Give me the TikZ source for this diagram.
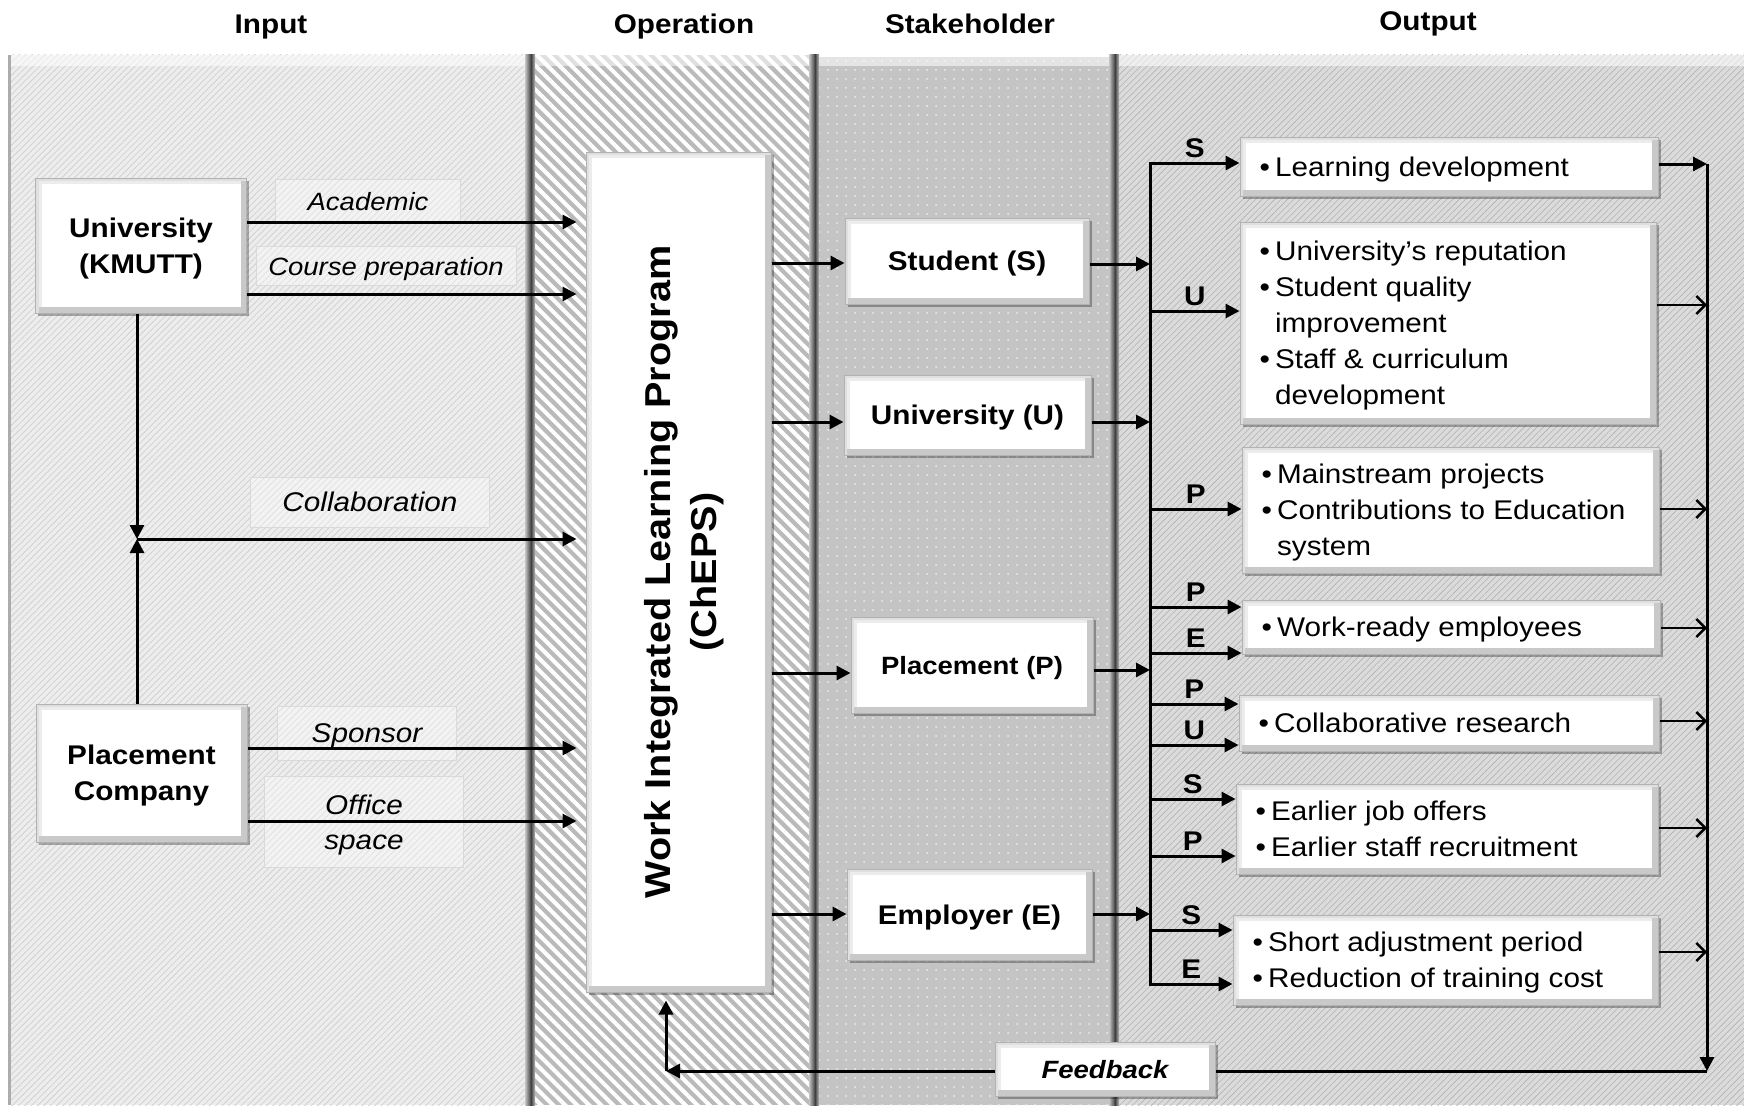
\documentclass[tikz,border=0pt]{standalone}
\usepackage{fontspec}
\setmainfont[FakeStretch=1.1]{Liberation Sans}
\usetikzlibrary{arrows.meta,patterns.meta,shadows}
\definecolor{pIn}{gray}{0.93}
\definecolor{pInL}{gray}{0.82}
\definecolor{pOp}{gray}{0.73}
\definecolor{pSt}{gray}{0.77}
\definecolor{pStD}{gray}{0.93}
\definecolor{pOut}{gray}{0.86}
\definecolor{pOutL}{gray}{0.70}
\newcommand\obul{•\hspace{5pt}}
\newcommand\onob{\phantom{•}\hspace{5pt}}
\begin{document}
\begin{tikzpicture}[x=1pt,y=-1pt,
  every node/.style={inner sep=0pt, text depth=0pt},
  tx/.style={font=\fontsize{27}{36}\selectfont},
  hdr/.style={font=\bfseries\fontsize{27}{36}\selectfont},
  bx/.style={rectangle, fill=white, draw=gray!60, line width=1pt,
    drop shadow={shadow xshift=2.5pt, shadow yshift=-2.5pt, fill=black, opacity=0.3},
    path picture={
      \draw[gray!15, line width=12pt] (path picture bounding box.south west) rectangle (path picture bounding box.north east);
      \draw[gray!42, line width=12pt] (path picture bounding box.south west) -- (path picture bounding box.south east) -- (path picture bounding box.north east);
      \draw[gray!25, line width=6pt] (path picture bounding box.south west) -- (path picture bounding box.north west) -- (path picture bounding box.north east);
    }},
  bxt/.style={font=\bfseries\fontsize{27}{36}\selectfont, align=center},
  lbl/.style={draw=gray!30, fill=white, fill opacity=0.35, text opacity=1, align=center, font=\itshape\fontsize{27}{35}\selectfont},
  ln/.style={line width=3pt},
  arr/.style={line width=3pt, -{Triangle[length=14pt,width=14pt]}},
  darr/.style={line width=3pt, {Triangle[length=14pt,width=14pt]}-{Triangle[length=14pt,width=14pt]}},
  oarr/.style={line width=2.4pt, -{Straight Barb[length=9pt,width=18pt]}},
  lt/.style={above=2pt, inner sep=2pt, font=\bfseries\fontsize{27}{30}\selectfont},
]
% background and panels
\fill[white] (0,0) rectangle (1744,1105);
\useasboundingbox (0,0) rectangle (1744,1105);
\fill[pIn] (8,55) rectangle (531,1105);
\fill[pattern={Lines[angle=45,distance=4.5pt,line width=0.8pt]}, pattern color=pInL] (8,55) rectangle (531,1105);
\fill[pOp] (531,55) rectangle (815,1105);
\fill[pattern={Lines[angle=-45,distance=8.5pt,line width=4pt]}, pattern color=white] (531,55) rectangle (815,1105);
\fill[pSt] (815,57) rectangle (1115,1105);
\fill[pattern={Dots[distance=9pt,radius=1pt]}, pattern color=pStD] (815,57) rectangle (1115,1105);
\fill[pOut] (1115,55) rectangle (1744,1105);
\fill[pattern={Lines[angle=45,distance=4.5pt,line width=0.6pt]}, pattern color=pOutL] (1115,55) rectangle (1744,1105);
\fill[white, opacity=0.55] (8,55) rectangle (1744,66);
\foreach \b in {531,815,1115} {
  \shade[left color=gray!45, right color=black!75] (\b-6,55) rectangle (\b,1105);
  \shade[left color=black!75, right color=gray!55] (\b,55) rectangle (\b+4,1105);
}
\draw[gray!65, line width=3pt] (9.5,55) -- (9.5,1105);

% headers
\node[hdr] (hIn) at (271,24) {Input};
\node[hdr] (hOp) at (684,24) {Operation};
\node[hdr] (hSt) at (970,24) {Stakeholder};
\node[hdr] (hOut) at (1428,21) {Output};

% label boxes
\node[lbl, minimum width=185pt, minimum height=43pt, font=\itshape\fontsize{25}{30}\selectfont] (lA) at (368,201) {Academic};
\node[lbl, minimum width=260pt, minimum height=39pt, font=\itshape\fontsize{25}{30}\selectfont] (lC) at (386,266) {Course preparation};
\node[lbl, minimum width=239pt, minimum height=50pt] (lCo) at (370,502) {Collaboration};
\node[lbl, minimum width=179pt, minimum height=54pt] (lS) at (367,733) {Sponsor};
\node[lbl, minimum width=199pt, minimum height=91pt] (lO) at (364,822) {Office\\space};

% input boxes
\node[bx, bxt, minimum width=211pt, minimum height=135pt] (uni) at (141,245.5) {University\\(KMUTT)};
\node[bx, bxt, minimum width=211pt, minimum height=138pt] (pc) at (141.5,773) {Placement\\Company};
\node[bx, minimum width=185pt, minimum height=840pt] (wil) at (678.5,572) {};
\node[rotate=90, align=center, font=\bfseries\fontsize{36}{46}\selectfont] (wilt) at (680,572) {Work Integrated Learning Program\\(ChEPS)};

% stakeholders
\node[bx, bxt, minimum width=244pt, minimum height=86pt] (stu) at (967,261) {Student (S)};
\node[bx, bxt, minimum width=247pt, minimum height=80pt] (unu) at (967.5,415) {University (U)};
\node[bx, bxt, minimum width=242pt, minimum height=96pt, font=\bfseries\fontsize{25}{30}\selectfont] (pla) at (972,665) {Placement (P)};
\node[bx, bxt, minimum width=245pt, minimum height=91pt] (emp) at (969.5,914.5) {Employer (E)};

% outputs
\node[bx, minimum width=418pt, minimum height=59pt] (o1) at (1449,166.5) {};
\node[bx, minimum width=416pt, minimum height=202pt] (o2) at (1448,323) {};
\node[bx, minimum width=417pt, minimum height=126pt] (o3) at (1450.5,510) {};
\node[bx, minimum width=418pt, minimum height=54pt] (o4) at (1451,627) {};
\node[bx, minimum width=420pt, minimum height=56pt] (o5) at (1449,723) {};
\node[bx, minimum width=422pt, minimum height=90pt] (o6) at (1447,829) {};
\node[bx, minimum width=425pt, minimum height=90pt] (o7) at (1445.5,960) {};
\node[tx, anchor=west, align=left] (o1t) at ([xshift=20pt]o1.west) {\obul Learning development};
\node[tx, anchor=west, align=left] (o2t) at ([xshift=20pt]o2.west) {\obul University’s reputation\\\obul Student quality\\\onob improvement\\\obul Staff \& curriculum\\\onob development};
\node[tx, anchor=west, align=left] (o3t) at ([xshift=20pt]o3.west) {\obul Mainstream projects\\\obul Contributions to Education\\\onob system};
\node[tx, anchor=west, align=left] (o4t) at ([xshift=20pt]o4.west) {\obul Work-ready employees};
\node[tx, anchor=west, align=left] (o5t) at ([xshift=20pt]o5.west) {\obul Collaborative research};
\node[tx, anchor=west, align=left] (o6t) at ([xshift=20pt]o6.west) {\obul Earlier job offers\\\obul Earlier staff recruitment};
\node[tx, anchor=west, align=left] (o7t) at ([xshift=20pt]o7.west) {\obul Short adjustment period\\\obul Reduction of training cost};

\node[bx, minimum width=220pt, minimum height=54pt, font=\bfseries\itshape\fontsize{25}{30}\selectfont] (fb) at (1105,1069) {Feedback};

% coordinates
\coordinate (J) at (137,539);
\coordinate (lbT) at (1150,163);
\coordinate (lbB) at (1150,984);
\coordinate (rbT) at (1707,164);
\coordinate (rbB) at (1707,1071);
\coordinate (fbc) at (666,1071);

% input connectors
\draw[arr, shorten >=9pt] (uni.east |- 0,222) -- (wil.west |- 0,222);
\draw[arr, shorten >=9pt] (uni.east |- 0,294) -- (wil.west |- 0,294);
\draw[arr] (uni.south -| J) -- (J);
\draw[arr] (pc.north -| J) -- (J);
\draw[arr, shorten >=9pt] (J) -- (wil.west |- J);
\draw[arr, shorten >=9pt] (pc.east |- 0,748) -- (wil.west |- 0,748);
\draw[arr, shorten >=9pt] (pc.east |- 0,821) -- (wil.west |- 0,821);

% operation to stakeholders
\draw[arr] (wil.east |- 0,263) -- (stu.west |- 0,263);
\draw[arr] (wil.east |- 0,422) -- (unu.west |- 0,422);
\draw[arr] (wil.east |- 0,673) -- (pla.west |- 0,673);
\draw[arr] (wil.east |- 0,914) -- (emp.west |- 0,914);

% stakeholders to bus
\draw[arr] (stu.east |- 0,264) -- (lbT |- 0,264);
\draw[arr] (unu.east |- 0,422) -- (lbT |- 0,422);
\draw[arr] (pla.east |- 0,670) -- (lbT |- 0,670);
\draw[arr] (emp.east |- 0,914) -- (lbT |- 0,914);

% bus to outputs
\draw[darr] (o1.west |- lbT) -- node[lt] (kS1) {S} (lbT) -- (lbB) -- node[lt] (kE2) {E} (o7.west |- lbB);
\draw[arr] (lbT |- 0,311) -- node[lt] (kU1) {U} (o2.west |- 0,311);
\draw[arr] (lbT |- 0,509) -- node[lt] (kP1) {P} (o3.west |- 0,509);
\draw[arr] (lbT |- 0,607) -- node[lt] (kP2) {P} (o4.west |- 0,607);
\draw[arr] (lbT |- 0,653) -- node[lt] (kE1) {E} (o4.west |- 0,653);
\draw[arr] (lbT |- 0,704) -- node[lt] (kP3) {P} (o5.west |- 0,704);
\draw[arr] (lbT |- 0,745) -- node[lt] (kU2) {U} (o5.west |- 0,745);
\draw[arr] (lbT |- 0,799) -- node[lt] (kS2) {S} (o6.west |- 0,799);
\draw[arr] (lbT |- 0,856) -- node[lt] (kP4) {P} (o6.west |- 0,856);
\draw[arr] (lbT |- 0,930) -- node[lt] (kS3) {S} (o7.west |- 0,930);

% outputs to right bus
\draw[arr] (o1.east |- rbT) -- (rbT);
\draw[oarr] (o2.east |- 0,305) -- (rbT |- 0,305);
\draw[oarr] (o3.east |- 0,509) -- (rbT |- 0,509);
\draw[oarr] (o4.east |- 0,628) -- (rbT |- 0,628);
\draw[oarr] (o5.east |- 0,721) -- (rbT |- 0,721);
\draw[oarr] (o6.east |- 0,828) -- (rbT |- 0,828);
\draw[oarr] (o7.east |- 0,952) -- (rbT |- 0,952);
\draw[arr] (rbT) -- (rbB);

% feedback
\draw[ln] (rbB) -- (fb.east |- rbB);
\draw[arr] (fb.west |- rbB) -- (fbc);
\draw[arr, shorten >=8pt] (fbc) -- (fbc |- wil.south);
\end{tikzpicture}
\end{document}
